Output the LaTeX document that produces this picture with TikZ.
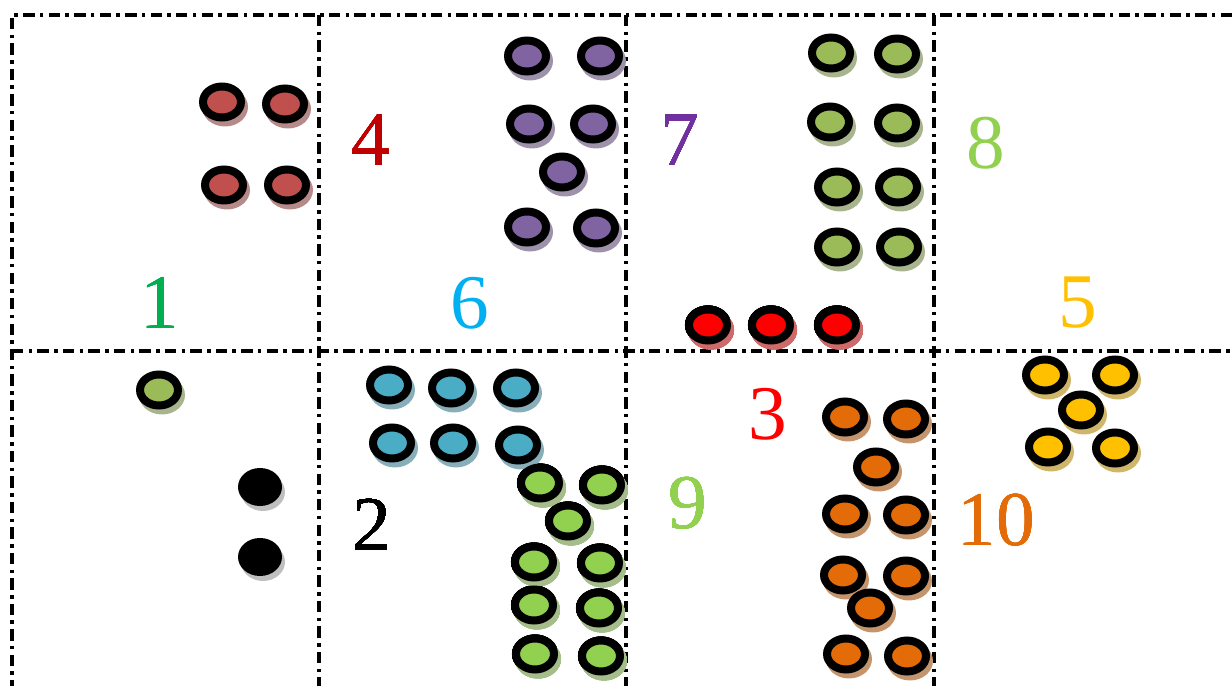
\documentclass[tikz,border=0pt]{standalone}
\usepackage{fontspec}
\setmainfont{Liberation Serif}

\definecolor{cRed}{HTML}{C0504D}
\definecolor{cPurple}{HTML}{8064A2}
\definecolor{cOlive}{HTML}{9BBB59}
\definecolor{cAqua}{HTML}{4BACC6}
\definecolor{cLime}{HTML}{92D050}
\definecolor{cOrange}{HTML}{E36C09}
\definecolor{cGold}{HTML}{FFC000}
\definecolor{cGreen}{HTML}{00B050}
\definecolor{cSky}{HTML}{00B0F0}
\definecolor{cViolet}{HTML}{7030A0}
\definecolor{cDarkRed}{HTML}{C00000}
\definecolor{cShade}{HTML}{B0B0B0}

\tikzset{
  gridline/.style={line width=2.6pt, dash pattern=on 6.5pt off 3pt on 2pt off 3pt},
  number/.style={font=\fontsize{44}{44}\selectfont, inner sep=0pt},
}

% one counter: shadow, then black ring with coloured centre
\newcommand{\chip}[3]{%
  \fill[#1!40!cShade] (#2+3,#3+5) ellipse [x radius=0.46cm, y radius=0.39cm];
  \draw[line width=0.16cm, fill=#1] (#2,#3) ellipse [x radius=0.38cm, y radius=0.31cm];
}

\begin{document}
\begin{tikzpicture}[x=0.02cm, y=-0.02cm]
    \useasboundingbox (0,0) rectangle (1232,686);

    % Gitter
    \draw[gridline] (1232,15) -- (12,15) -- (12,686);
    \draw[gridline] (12,351) -- (1232,351);
    \foreach \gx in {319,626,934}
        \draw[gridline] (\gx,15) -- (\gx,686);

    % Feld 1 (oben)
    \foreach \px/\py in {222/102, 285/104, 224/185, 287/185}
        \chip{cRed}{\px}{\py}
    \node[number, text=cGreen] (n1) at (160,303) {1};

    % Feld 2 (oben)
    \foreach \px/\py in {527/56, 600/56, 529/124, 593/124, 562/172, 527/227, 596/228}
        \chip{cPurple}{\px}{\py}
    \node[number, text=cDarkRed] (n4) at (371,140) {4};
    \node[number, text=cSky] (n6) at (470,303) {6};

    % Feld 3 (oben)
    \foreach \px/\py in {831/53, 897/54, 830/122, 897/123, 837/187, 898/187, 837/247, 899/247}
        \chip{cOlive}{\px}{\py}
    \foreach \px in {708,771,837}
        \chip{red}{\px}{325}
    \node[number, text=cViolet] (n7) at (680,140) {7};

    % Feld 4 (oben)
    \node[number, text=cLime] (n8) at (986,143) {8};
    \node[number, text=cGold] (n5) at (1078,303) {5};

    % Feld 1 (unten)
    \chip{cOlive}{159}{390}
    \foreach \py in {487,557} {
        \fill[gray!50] (263,\py+5) ellipse [x radius=0.44cm, y radius=0.38cm];
        \fill (260,\py) ellipse [x radius=0.44cm, y radius=0.38cm];
    }

    % Feld 2 (unten)
    \foreach \px/\py in {389/385, 451/388, 516/388, 392/443, 453/443, 518/445}
        \chip{cAqua}{\px}{\py}
    \foreach \px/\py in {540/483, 602/485, 568/521, 534/562, 600/563, 534/605, 599/608, 535/654, 601/656}
        \chip{cLime}{\px}{\py}
    \node[number] (n2) at (372,525) {2};

    % Feld 3 (unten)
    \foreach \px/\py in {845/417, 906/419, 876/467, 845/514, 906/515, 843/575, 906/576, 870/608, 846/654, 907/656}
        \chip{cOrange}{\px}{\py}
    \node[number, text=cLime] (n9) at (688,503) {9};
    \node[number, text=red] (n3) at (768,414) {3};

    % Feld 4 (unten)
    \foreach \px/\py in {1045/375, 1115/375, 1081/410, 1048/447, 1115/448}
        \chip{cGold}{\px}{\py}
    \node[number, text=cOrange] (n10) at (996,520) {10};
\end{tikzpicture}
\end{document}
